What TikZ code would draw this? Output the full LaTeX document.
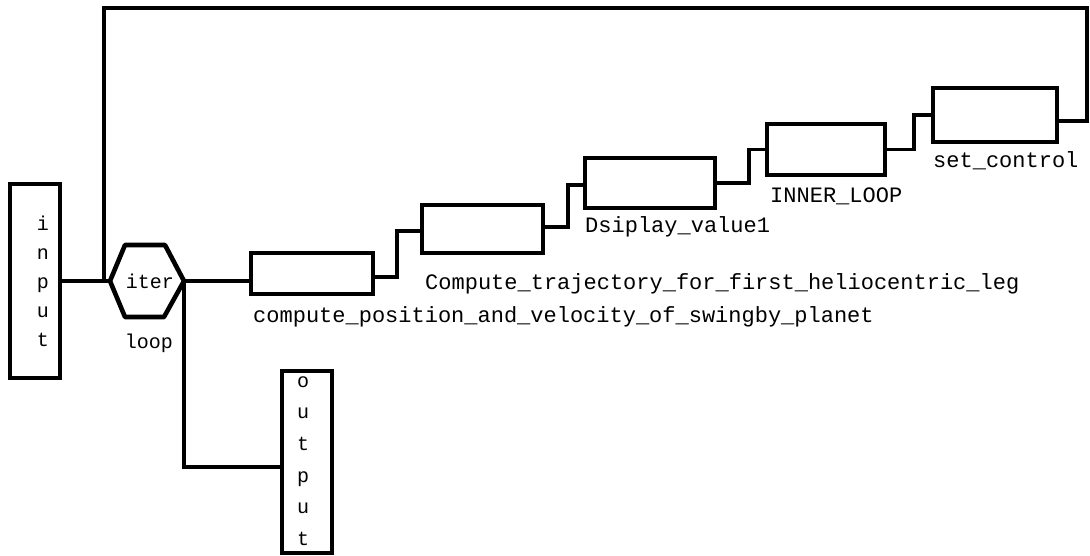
\documentclass[tikz,border=0pt]{standalone}
\usepackage{fontspec}
\newfontfamily\cour{Liberation Mono}
\begin{document}
\begin{tikzpicture}[x=1pt,y=-1pt,
  blk/.style={draw,line width=4.2pt,minimum width=#1,inner sep=0pt},
  io/.style={draw,line width=3.2pt,minimum width=50pt,inner sep=0pt},
  conn/.style={line width=3.6pt},
  lbl/.style={font=\cour\fontsize{22}{22}\selectfont,inner sep=0pt,anchor=mid west},
  vlbl/.style={font=\cour\fontsize{20}{#1}\selectfont,inner sep=0pt,align=center}
]
\useasboundingbox (0,0) rectangle (1090,555);

% input / output boxes
\node[io,minimum height=194pt] (in) at (35,281) {};
\node[vlbl=29pt] (inlbl) at (43,281) {i\\n\\p\\u\\t};
\node[io,minimum height=182pt] (out) at (307,462) {};
\node[vlbl=31.6pt] (outlbl) at (303,461) {o\\u\\t\\p\\u\\t};

% iteration hexagon
\coordinate (hexL) at (110,281);
\coordinate (hexR) at (184,281);
\draw[line width=4.6pt,line join=round] (hexL) -- (125,245) -- (165,245) -- (hexR) -- (164,317) -- (125,317) -- cycle;
\node[font=\cour\fontsize{20}{20}\selectfont,inner sep=0pt] (iter) at (150,281) {iter};
\node[font=\cour\fontsize{20}{20}\selectfont,inner sep=0pt] (loop) at (149,343) {loop};

% chain of blocks
\node[blk=122pt,minimum height=41pt] (b1) at (312,273.5) {};
\node[blk=121pt,minimum height=48pt] (b2) at (482.5,229) {};
\node[blk=130pt,minimum height=50pt] (b3) at (650,183) {};
\node[blk=118pt,minimum height=51pt] (b4) at (826,149.5) {};
\node[blk=124pt,minimum height=54pt] (b5) at (995,115) {};

% labels
\node[lbl] (l1) at (253,320) {compute\_position\_and\_velocity\_of\_swingby\_planet};
\node[lbl] (l2) at (425,287) {Compute\_trajectory\_for\_first\_heliocentric\_leg};
\node[lbl] (l3) at (585,230) {Dsiplay\_value1};
\node[lbl] (l4) at (770,200) {INNER\_LOOP};
\node[lbl] (l5) at (933,165) {set\_control};

% connectors
\draw[conn] (in.east) -- (hexL);
\draw[conn] (hexR) -- (hexR -| b1.west);
\draw[conn] (hexR) |- ([yshift=-5pt]out.west);
\draw[conn] ([yshift=-3.5pt]b1.east) -- ++(22,0) |- ([yshift=-2pt]b2.west);
\draw[conn] ([yshift=2pt]b2.east) -- ++(23,0) |- ([yshift=-2pt]b3.west);
\draw[conn] (b3.east) -- ++(32,0) |- (b4.west);
\draw[conn] (b4.east) -- ++(27,0) |- (b5.west);

\coordinate (topR) at (1087,8);
\coordinate (topL) at (104,8);
\coordinate (jn) at (104,281);
\draw[conn,line join=miter] ([yshift=-6pt]b5.east) -| (topR) -- (topL) -- (jn);
\end{tikzpicture}
\end{document}
